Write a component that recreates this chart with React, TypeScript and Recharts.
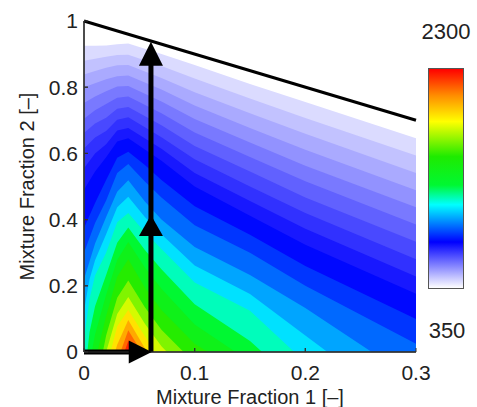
import React from 'react';
import { ComposedChart, Area, XAxis, YAxis, ReferenceLine, ReferenceDot } from 'recharts';

// temperature range of the colour bar [K]
const tMin = 350;
const tMax = 2300;

// contour levels [K]
const levels = [389, 428, 467, 506, 545, 584, 623, 662, 701, 740, 799, 857, 935, 1013, 1091, 1208, 1325, 1462, 1598, 1715, 1832, 1949, 2066, 2183];

// each contour line as [mixture fraction 1, mixture fraction 2] points (region below is hotter)
const c389 = [[0, 0.925], [0.01, 0.925], [0.02, 0.926], [0.03, 0.93], [0.04, 0.932], [0.07, 0.9], [0.1, 0.867], [0.15, 0.81], [0.2, 0.755], [0.3, 0.646]];
const c428 = [[0, 0.88], [0.01, 0.886], [0.02, 0.892], [0.03, 0.897], [0.04, 0.898], [0.07, 0.864], [0.1, 0.826], [0.15, 0.766], [0.2, 0.707], [0.3, 0.594]];
const c467 = [[0, 0.838], [0.01, 0.849], [0.02, 0.859], [0.03, 0.866], [0.04, 0.867], [0.07, 0.828], [0.1, 0.785], [0.15, 0.721], [0.2, 0.659], [0.3, 0.541]];
const c506 = [[0, 0.8], [0.01, 0.812], [0.02, 0.824], [0.03, 0.833], [0.04, 0.835], [0.07, 0.793], [0.1, 0.745], [0.15, 0.677], [0.2, 0.611], [0.3, 0.489]];
const c545 = [[0, 0.752], [0.01, 0.772], [0.02, 0.788], [0.03, 0.802], [0.04, 0.804], [0.07, 0.757], [0.1, 0.704], [0.15, 0.633], [0.2, 0.563], [0.3, 0.437]];
const c584 = [[0, 0.705], [0.01, 0.73], [0.02, 0.749], [0.03, 0.768], [0.04, 0.772], [0.07, 0.721], [0.1, 0.663], [0.15, 0.589], [0.2, 0.516], [0.3, 0.385]];
const c623 = [[0, 0.662], [0.01, 0.69], [0.02, 0.708], [0.03, 0.735], [0.04, 0.74], [0.07, 0.685], [0.1, 0.622], [0.15, 0.545], [0.2, 0.467], [0.3, 0.333]];
const c662 = [[0, 0.615], [0.01, 0.648], [0.02, 0.668], [0.03, 0.702], [0.04, 0.709], [0.07, 0.649], [0.1, 0.582], [0.15, 0.5], [0.2, 0.42], [0.3, 0.28]];
const c701 = [[0, 0.555], [0.01, 0.6], [0.02, 0.628], [0.03, 0.669], [0.04, 0.677], [0.07, 0.614], [0.1, 0.541], [0.15, 0.456], [0.2, 0.372], [0.3, 0.228]];
const c740 = [[0, 0.49], [0.01, 0.545], [0.02, 0.588], [0.03, 0.636], [0.04, 0.646], [0.07, 0.578], [0.1, 0.5], [0.15, 0.412], [0.2, 0.324], [0.3, 0.176]];
const c799 = [[0, 0.375], [0.01, 0.45], [0.02, 0.52], [0.03, 0.587], [0.04, 0.605], [0.055, 0.565], [0.07, 0.52], [0.1, 0.44], [0.15, 0.354], [0.2, 0.26], [0.3, 0.1]];
const c857 = [[0, 0.3], [0.01, 0.39], [0.02, 0.458], [0.03, 0.541], [0.04, 0.568], [0.055, 0.515], [0.07, 0.467], [0.1, 0.383], [0.15, 0.3], [0.2, 0.2], [0.3, 0.025]];
const c935 = [[0, 0.22], [0.01, 0.328], [0.02, 0.408], [0.03, 0.484], [0.04, 0.519], [0.055, 0.455], [0.07, 0.4], [0.1, 0.317], [0.15, 0.233], [0.2, 0.133], [0.26, 0]];
const c1013 = [[0, 0.125], [0.005, 0.22], [0.01, 0.277], [0.02, 0.356], [0.03, 0.437], [0.04, 0.469], [0.055, 0.408], [0.07, 0.356], [0.1, 0.261], [0.15, 0.175], [0.2, 0.05], [0.22, 0]];
const c1091 = [[0, 0.04], [0.005, 0.16], [0.01, 0.231], [0.02, 0.3], [0.03, 0.392], [0.04, 0.42], [0.055, 0.362], [0.07, 0.311], [0.1, 0.21], [0.15, 0.125], [0.19, 0]];
const c1208 = [[0.003, 0], [0.005, 0.06], [0.01, 0.138], [0.02, 0.233], [0.03, 0.33], [0.04, 0.376], [0.055, 0.308], [0.07, 0.25], [0.1, 0.144], [0.15, 0.033], [0.161, 0]];
const c1325 = [[0.007, 0], [0.01, 0.053], [0.02, 0.173], [0.03, 0.278], [0.04, 0.332], [0.055, 0.255], [0.07, 0.191], [0.1, 0.083], [0.137, 0]];
const c1462 = [[0.012, 0], [0.02, 0.109], [0.03, 0.227], [0.04, 0.28], [0.055, 0.195], [0.07, 0.127], [0.1, 0.025], [0.112, 0]];
const c1598 = [[0.017, 0], [0.02, 0.05], [0.03, 0.164], [0.04, 0.216], [0.055, 0.135], [0.07, 0.067], [0.09, 0]];
const c1715 = [[0.02, 0], [0.03, 0.115], [0.04, 0.166], [0.055, 0.085], [0.07, 0.017], [0.075, 0]];
const c1832 = [[0.024, 0], [0.03, 0.078], [0.04, 0.127], [0.064, 0]];
const c1949 = [[0.028, 0], [0.03, 0.022], [0.04, 0.097], [0.057, 0]];
const c2066 = [[0.033, 0], [0.04, 0.066], [0.052, 0]];
const c2183 = [[0.0365, 0], [0.04, 0.033], [0.046, 0]];

const contours = [c389, c428, c467, c506, c545, c584, c623, c662, c701, c740, c799, c857, c935, c1013, c1091, c1208, c1325, c1462, c1598, c1715, c1832, c1949, c2066, c2183];

// axes
const xTicks = [0, 0.1, 0.2, 0.3];
const yTicks = [0, 0.2, 0.4, 0.6, 0.8, 1];

// upper edge of the domain
const boundary = [{ x: 0, y: 1 }, { x: 0.3, y: 0.7 }];

// path arrows
const pathX = 0.0605;
const pathTop = 0.87;
const upHeads = [0.414, 0.937];
const rightHeadX = 0.0612;
const rightShaftEnd = 0.045;

// jet-like colour map used by the figure
const colorStops: [number, number[]][] = [
  [0, [255, 255, 255]],
  [0.21, [0, 0, 255]],
  [0.38, [0, 255, 255]],
  [0.47, [0, 248, 50]],
  [0.6, [30, 235, 0]],
  [0.76, [255, 255, 0]],
  [0.88, [255, 140, 0]],
  [1, [255, 0, 0]],
];

function tempColor(t: number) {
  const f = Math.min(1, Math.max(0, (t - tMin) / (tMax - tMin)));
  for (let i = 1; i < colorStops.length; i++) {
    const [f0, c0] = colorStops[i - 1];
    const [f1, c1] = colorStops[i];
    if (f <= f1) {
      const k = (f - f0) / (f1 - f0);
      const c = c0.map((v, j) => Math.round(v + (c1[j] - v) * k));
      return `rgb(${c.join(',')})`;
    }
  }
  return 'rgb(255,0,0)';
}

// one row per x position, one column per contour level
const xs = Array.from(new Set(contours.flat().map((p) => p[0]))).sort((a, b) => a - b);
const table = xs.map((x) => {
  const row: Record<string, number | null> = { x };
  contours.forEach((c, i) => {
    const p = c.find((q) => q[0] === x);
    row['l' + i] = p ? p[1] : null;
  });
  return row;
});

const font = '"Liberation Sans", Arial, Helvetica, sans-serif';
const textStyle = { fontSize: 20, fill: '#222', fontFamily: font };
const tickStyle = { fontSize: 21, fill: '#222', fontFamily: font };

const upHead = (h: number) => (p: any) => (
  <polygon points={`${p.cx},${p.cy} ${p.cx - 12},${p.cy + h} ${p.cx + 12},${p.cy + h}`} fill="#000" />
);
const rightHead = (p: any) => (
  <polygon points={`${p.cx},${p.cy} ${p.cx - 23},${p.cy - 11.5} ${p.cx - 23},${p.cy + 11.5}`} fill="#000" />
);

const App: React.FC = () => {
  const gradient = `linear-gradient(to top, ${colorStops
    .map(([f, c]) => `rgb(${c.join(',')}) ${f * 100}%`)
    .join(', ')})`;

  return (
    <div style={{ position: 'absolute', left: 0, top: 0, width: 477, height: 407, background: '#fff', fontFamily: font }}>
      <ComposedChart width={477} height={407} data={table} margin={{ top: 21, right: 61, bottom: 0, left: 0 }}>
        {levels.map((t, i) => {
          const next = i < levels.length - 1 ? levels[i + 1] : tMax;
          return (
            <Area
              key={t}
              type="linear"
              dataKey={'l' + i}
              stroke="none"
              fill={tempColor((t + next) / 2)}
              fillOpacity={1}
              connectNulls
              dot={false}
              activeDot={false}
              isAnimationActive={false}
            />
          );
        })}
        <XAxis
          type="number"
          dataKey="x"
          domain={[0, 0.3]}
          ticks={xTicks}
          height={55}
          tickSize={-4}
          tickMargin={17}
          stroke="#333"
          tick={tickStyle}
          label={{ value: 'Mixture Fraction 1 [–]', position: 'insideBottom', offset: 3, style: textStyle }}
        />
        <YAxis
          type="number"
          domain={[0, 1]}
          ticks={yTicks}
          width={84}
          tickSize={-4}
          tickMargin={10}
          stroke="#333"
          tick={tickStyle}
          label={{ value: 'Mixture Fraction 2 [–]', angle: -90, position: 'insideLeft', offset: 27, style: { ...textStyle, textAnchor: 'middle' } }}
        />
        <ReferenceLine segment={[{ x: 0, y: 0 }, { x: 0.3, y: 0 }]} stroke="#333" strokeWidth={1.5} ifOverflow="visible" />
        <ReferenceLine segment={[{ x: 0, y: 0 }, { x: 0, y: 1 }]} stroke="#333" strokeWidth={1.5} ifOverflow="visible" />
        {xTicks.slice(1, 3).map((t) => (
          <ReferenceLine key={t} segment={[{ x: t, y: 0 }, { x: t, y: 0.012 }]} stroke="#333" strokeWidth={1.2} ifOverflow="visible" />
        ))}
        {yTicks.slice(1, 5).map((t) => (
          <ReferenceLine key={t} segment={[{ x: 0, y: t }, { x: 0.0035, y: t }]} stroke="#333" strokeWidth={1.2} ifOverflow="visible" />
        ))}
        <ReferenceLine segment={boundary} stroke="#000" strokeWidth={3} ifOverflow="visible" />
        <ReferenceLine segment={[{ x: pathX, y: 0 }, { x: pathX, y: pathTop }]} stroke="#000" strokeWidth={5} ifOverflow="visible" />
        <ReferenceLine segment={[{ x: 0, y: 0 }, { x: rightShaftEnd, y: 0 }]} stroke="#000" strokeWidth={5} ifOverflow="visible" />
        <ReferenceDot x={pathX} y={upHeads[0]} ifOverflow="visible" shape={upHead(21)} />
        <ReferenceDot x={pathX} y={upHeads[1]} ifOverflow="visible" shape={upHead(24)} />
        <ReferenceDot x={rightHeadX} y={0} ifOverflow="visible" shape={rightHead} />
      </ComposedChart>
      <div style={{ position: 'absolute', left: 428, top: 68, width: 34, height: 219, background: gradient, border: '1px solid #555' }} />
      <div style={{ position: 'absolute', left: 406, top: 19, width: 80, textAlign: 'center', fontSize: 22, lineHeight: '26px', color: '#222' }}>{tMax}</div>
      <div style={{ position: 'absolute', left: 407, top: 318, width: 80, textAlign: 'center', fontSize: 22, lineHeight: '26px', color: '#222' }}>{tMin}</div>
    </div>
  );
};

export default App;
